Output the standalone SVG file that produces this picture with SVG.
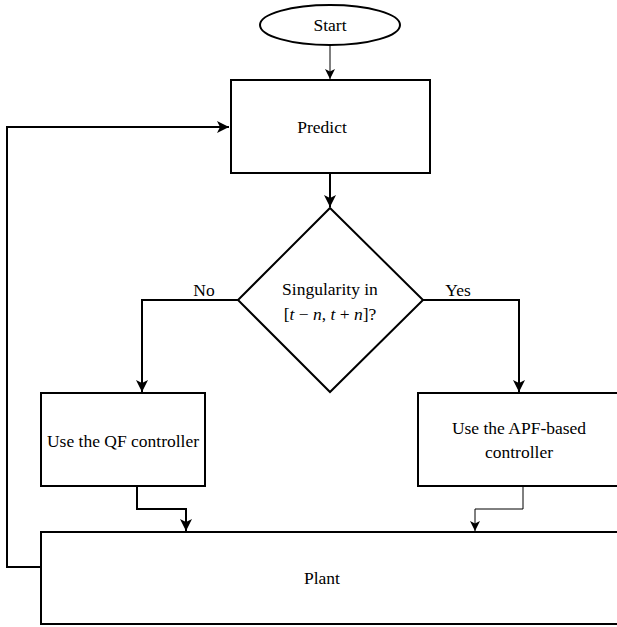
<svg xmlns="http://www.w3.org/2000/svg" width="617" height="627" viewBox="0 0 617 627">
<style>
.box{fill:#fff;stroke:#000;stroke-width:2}
.t{font-family:'Liberation Serif','Times New Roman',Times,'DejaVu Serif',serif;font-size:17.5px;fill:#000;text-anchor:middle;dominant-baseline:central}
.c{fill:none;stroke:#000;stroke-width:2}
.c1{fill:none;stroke:#000;stroke-width:1}
.i{font-style:italic}
</style>
<defs>
<marker id="ah" markerUnits="userSpaceOnUse" markerWidth="14" markerHeight="14" refX="12" refY="7" orient="auto" viewBox="0 0 14 14">
<path d="M0,1 L12,7 L0,13 L3,7 z" fill="#000"/>
</marker>
<marker id="ahs" markerUnits="userSpaceOnUse" markerWidth="12" markerHeight="12" refX="10" refY="6" orient="auto" viewBox="0 0 12 12">
<path d="M0,1 L10,6 L0,11 L2.5,6 z" fill="#000"/>
</marker>
</defs>
<g id="connectors">
<path class="c1" d="M330,45 V79" marker-end="url(#ahs)"/>
<path class="c" d="M330,173 V207" marker-end="url(#ah)"/>
<path class="c" d="M238,300 H142 V392" marker-end="url(#ah)"/>
<path class="c" d="M423,300 H519 V392" marker-end="url(#ah)"/>
<path class="c" d="M137,486 V509 H186 V531" marker-end="url(#ah)"/>
<path class="c1" d="M523,486 V509 H475 V531" marker-end="url(#ahs)"/>
<path class="c" d="M41,567 H7 V127 H229" marker-end="url(#ah)"/>
<text class="t" x="204" y="290">No</text>
<text class="t" x="458" y="290">Yes</text>
</g>
<g id="start">
<ellipse class="box" cx="330" cy="25" rx="70" ry="20"/>
<text class="t" x="330" y="25">Start</text>
</g>
<g id="predict">
<rect class="box" x="231" y="80" width="199" height="93"/>
<text class="t" x="322" y="127">Predict</text>
</g>
<g id="decision">
<path class="box" d="M330,208 L423,300 L330,392 L238,300 Z"/>
<text class="t" x="330" y="289">Singularity in</text>
<text class="t" x="330" y="314" xml:space="preserve">[<tspan class="i">t</tspan> − <tspan class="i">n</tspan>, <tspan class="i">t</tspan> + <tspan class="i">n</tspan>]?</text>
</g>
<g id="qf">
<rect class="box" x="41" y="393" width="164" height="93"/>
<text class="t" x="123" y="441">Use the QF controller</text>
</g>
<g id="apf">
<rect class="box" x="418" y="393" width="210" height="93"/>
<text class="t" x="519" y="428">Use the APF-based</text>
<text class="t" x="519" y="452">controller</text>
</g>
<g id="plant">
<rect class="box" x="41" y="532" width="590" height="92"/>
<text class="t" x="322" y="578">Plant</text>
</g>
</svg>
